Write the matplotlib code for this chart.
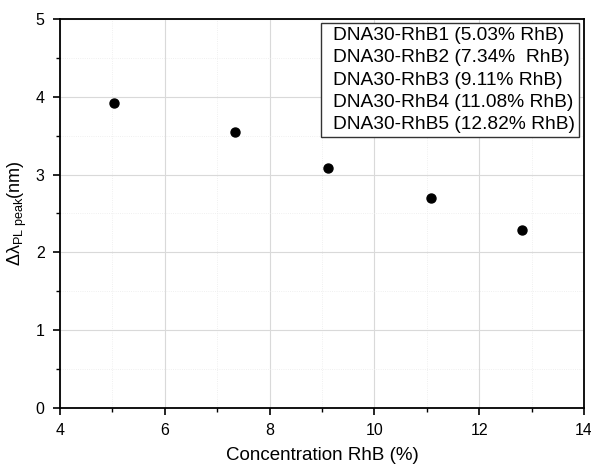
import matplotlib
matplotlib.use("Agg")
import matplotlib.pyplot as plt
from matplotlib.lines import Line2D
from matplotlib.ticker import MultipleLocator

plt.rcParams['font.family'] = ['Liberation Sans', 'DejaVu Sans']
plt.rcParams['mathtext.fontset'] = 'custom'
plt.rcParams['mathtext.rm'] = 'Liberation Sans'
plt.rcParams['mathtext.it'] = 'Liberation Sans:italic'

# data ---------------------------------------------------------------
conc = [5.03, 7.34, 9.11, 11.08, 12.82]
shift = [3.92, 3.55, 3.09, 2.70, 2.29]
labels = ["DNA30-RhB1 (5.03% RhB)", "DNA30-RhB2 (7.34%  RhB)",
          "DNA30-RhB3 (9.11% RhB)", "DNA30-RhB4 (11.08% RhB)",
          "DNA30-RhB5 (12.82% RhB)"]

fig = plt.figure(figsize=(5.91, 4.66), dpi=100)
ax = fig.add_axes([0.1015, 0.1245, 0.8866, 0.8348])

ax.scatter(conc, shift, s=42, color="black", zorder=3)

ax.set_xlim(4, 14)
ax.set_ylim(0, 5)
ax.xaxis.set_major_locator(MultipleLocator(2))
ax.xaxis.set_minor_locator(MultipleLocator(1))
ax.yaxis.set_major_locator(MultipleLocator(1))
ax.yaxis.set_minor_locator(MultipleLocator(0.5))
ax.grid(True, which="major", color="#d9d9d9", lw=0.8)
ax.grid(True, which="minor", color="#ebebeb", lw=0.6, ls=":")
ax.set_axisbelow(True)

ax.tick_params(which="major", direction="out", length=5, width=1.2,
               labelsize=11.5, colors="black", pad=6)
ax.tick_params(which="minor", direction="out", length=3, width=1.0)
for sp in ax.spines.values():
    sp.set_linewidth(1.3)

ax.set_xlabel("Concentration RhB (%)", fontsize=13.5, labelpad=6)
ax.set_ylabel("Δλ$_{\\mathrm{PL\\ peak}}$(nm)", fontsize=13, labelpad=5)

handles = [Line2D([], [], linestyle="none") for _ in labels]
leg = fig.legend(handles, labels, loc="upper right",
                 bbox_to_anchor=(0.979, 0.9506), bbox_transform=fig.transFigure,
                 handlelength=0.4, handletextpad=0, fontsize=13.8,
                 frameon=True, fancybox=False, borderpad=0.2,
                 labelspacing=0.25, borderaxespad=0)
leg.get_frame().set_edgecolor("#333333")
leg.get_frame().set_linewidth(1.0)
leg.get_frame().set_alpha(1)

fig.savefig("out.png", dpi=100, facecolor="white")
